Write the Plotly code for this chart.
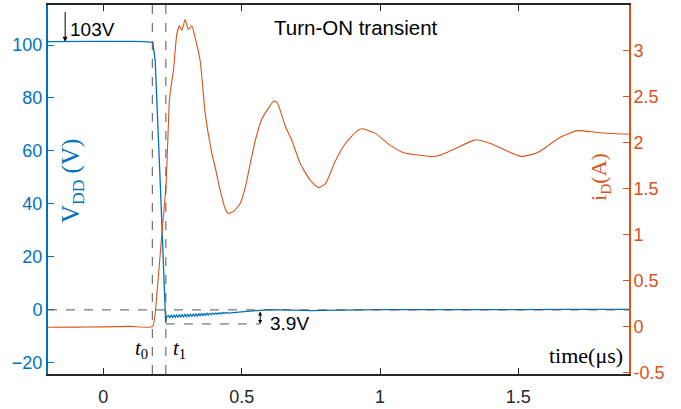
import plotly.graph_objects as go

# ---------------- data ----------------
t_vdd = [-0.20, -0.15, -0.10, -0.05, 0.00, 0.05, 0.10, 0.15, 0.1787, 0.1875, 0.1995, 0.2082, 0.2124, 0.2254, 0.2290,
         0.235, 0.240, 0.245, 0.250, 0.255, 0.260, 0.265, 0.270, 0.275, 0.280, 0.285, 0.290, 0.295, 0.300, 0.305, 0.310,
         0.315, 0.320, 0.325, 0.330, 0.335, 0.340, 0.345, 0.350, 0.355, 0.360, 0.365, 0.370, 0.375, 0.380, 0.385, 0.390,
         0.395, 0.400, 0.405, 0.410, 0.415, 0.420, 0.425, 0.430, 0.435, 0.440, 0.445, 0.450, 0.455, 0.460,
         0.48, 0.50, 0.53, 0.56, 0.60, 0.65, 0.70, 0.75, 0.80, 0.90, 1.00, 1.10, 1.30, 1.50, 1.70, 1.90]
v_dd = [101.3, 101.4, 101.5, 101.4, 101.4, 101.5, 101.4, 101.3, 101.0, 94.0, 67.0, 41.5, 30.0, -4.9, -2.5,
        -2.1, -2.9, -2.0, -2.9, -1.9, -2.8, -1.9, -2.8, -1.8, -2.7, -1.8, -2.6, -1.7, -2.6, -1.7, -2.5,
        -1.6, -2.4, -1.6, -2.3, -1.5, -2.3, -1.5, -2.2, -1.4, -2.1, -1.4, -2.0, -1.3, -1.9, -1.3, -1.8,
        -1.2, -1.7, -1.2, -1.6, -1.1, -1.5, -1.1, -1.4, -1.0, -1.3, -1.0, -1.2, -1.0, -1.1,
        -0.9, -0.7, -0.4, -0.1, 0.1, 0.0, -0.2, -0.3, -0.2, 0.0, 0.1, 0.1, 0.0, 0.1, 0.2, 0.2]

t_id = [-0.20, -0.10, 0.00, 0.10, 0.1773, 0.1947, 0.2114, 0.2269, 0.2389, 0.2476, 0.2533, 0.2657, 0.2751, 0.2838,
        0.2957, 0.3076, 0.3199, 0.3319, 0.3500, 0.3681, 0.3923, 0.4043, 0.4224, 0.4405, 0.4524, 0.4620, 0.4705,
        0.4948, 0.5129, 0.5310, 0.5490, 0.5733, 0.5914, 0.6153, 0.6276, 0.6576, 0.6819, 0.7119, 0.7481, 0.7771,
        0.8024, 0.8386, 0.8748, 0.9182, 0.9363, 0.9833, 1.0376, 1.0858, 1.2005, 1.2548, 1.3453, 1.3996, 1.5082,
        1.5686, 1.6529, 1.7134, 1.7857, 1.9001]
i_d = [-0.01, -0.008, -0.005, 0.0, 0.0, 0.40, 1.00, 1.55, 2.46, 2.67, 2.78, 3.18, 3.27, 3.22,
       3.34, 3.23, 3.27, 3.14, 2.89, 2.32, 1.88, 1.73, 1.48, 1.28, 1.23, 1.24, 1.25,
       1.34, 1.51, 1.77, 2.02, 2.26, 2.35, 2.45, 2.44, 2.18, 2.02, 1.77, 1.59, 1.51,
       1.55, 1.80, 1.99, 2.13, 2.15, 2.10, 1.97, 1.89, 1.85, 1.91, 2.03, 1.99, 1.85,
       1.89, 2.06, 2.13, 2.11, 2.09]

x_ticks = [0, 0.5, 1, 1.5]
x_ticklabels = ["0", "0.5", "1", "1.5"]
y1_ticks = [-20, 0, 20, 40, 60, 80, 100]
y2_ticks = [-0.5, 0, 0.5, 1, 1.5, 2, 2.5, 3]
y2_ticklabels = ["-0.5", "0", "0.5", "1", "1.5", "2", "2.5", "3"]

T0, T1 = 0.177, 0.226          # switching instants
V_MIN = -5.3                   # undershoot level
T_MEAS = 0.567                 # where the 3.9V undershoot is marked

BLUE = "#0072BD"
ORANGE = "#D95319"
DARK = "#262626"
SANS = "Liberation Sans, Arial, sans-serif"
SERIF = "Liberation Serif, Times New Roman, serif"

fig = go.Figure()
fig.add_trace(go.Scatter(x=t_vdd, y=v_dd, mode="lines", line=dict(color=BLUE, width=1.3),
                         yaxis="y", showlegend=False, hoverinfo="skip"))
fig.add_trace(go.Scatter(x=t_id, y=i_d, mode="lines", line=dict(color=ORANGE, width=1.1, shape="spline", smoothing=0.5),
                         yaxis="y2", showlegend=False, hoverinfo="skip"))

dash = dict(color="#555555", width=1, dash="dash")
fig.add_shape(type="line", xref="x", yref="paper", x0=T0, x1=T0, y0=0, y1=1, line=dash, layer="above")
fig.add_shape(type="line", xref="x", yref="paper", x0=T1, x1=T1, y0=0, y1=1, line=dash, layer="above")
fig.add_shape(type="line", xref="paper", yref="y", x0=0, x1=1, y0=0, y1=0, line=dash, layer="above")
fig.add_shape(type="line", xref="x", yref="y", x0=T1, x1=T_MEAS, y0=V_MIN, y1=V_MIN, line=dash, layer="above")

anns = [
    dict(x=-0.138, y=101.2, ax=-0.138, ay=113, xref="x", yref="y", axref="x", ayref="y",
         showarrow=True, arrowhead=2, arrowsize=1, arrowwidth=1, arrowcolor="black", text=""),
    dict(x=-0.128, y=105.8, xref="x", yref="y", text="103V", showarrow=False, xanchor="left", yanchor="middle",
         font=dict(family=SANS, size=19, color="black")),
    dict(x=0.915, y=0.94, xref="x", yref="paper", text="Turn-ON transient", showarrow=False,
         xanchor="center", yanchor="middle", font=dict(family=SANS, size=20.5, color="black")),
    dict(x=T_MEAS, y=V_MIN, ax=T_MEAS, ay=0, xref="x", yref="y", axref="x", ayref="y",
         showarrow=True, arrowhead=2, startarrowhead=2, arrowside="end+start", arrowsize=0.8,
         arrowwidth=1, arrowcolor="black", text=""),
    dict(x=0.596, y=V_MIN, xref="x", yref="y", text="3.9V", showarrow=False, xanchor="left", yanchor="middle",
         font=dict(family=SANS, size=19, color="black")),
    dict(x=0.139, y=0.068, xref="x", yref="paper", text="<i>t</i><sub>0</sub>", showarrow=False,
         xanchor="center", yanchor="middle", font=dict(family=SERIF, size=21, color="black")),
    dict(x=0.276, y=0.068, xref="x", yref="paper", text="<i>t</i><sub>1</sub>", showarrow=False,
         xanchor="center", yanchor="middle", font=dict(family=SERIF, size=21, color="black")),
    dict(x=0.993, y=0.049, xref="paper", yref="paper", text="time(μs)", showarrow=False, xanchor="right",
         yanchor="middle", font=dict(family=SERIF, size=22, color="black")),
    dict(x=0.0413, y=0.523, xref="paper", yref="paper", text="V<sub>DD</sub> (V)", showarrow=False,
         xanchor="center", yanchor="middle", textangle=-90, font=dict(family=SERIF, size=25, color=BLUE)),
    dict(x=0.950, y=0.534, xref="paper", yref="paper", text="i<sub>D</sub>(A)", showarrow=False,
         xanchor="center", yanchor="middle", textangle=-90, font=dict(family=SERIF, size=22, color=ORANGE)),
]

fig.update_layout(
    width=681, height=409,
    margin=dict(l=48, r=52, t=5, b=35, autoexpand=False),
    paper_bgcolor="white", plot_bgcolor="white",
    annotations=anns,
    xaxis=dict(range=[-0.2, 1.9], tickvals=x_ticks, ticktext=x_ticklabels, ticks="inside", ticklen=6,
               tickwidth=1.2, tickcolor=DARK, showline=True, linecolor=DARK, linewidth=2, mirror="ticks",
               showgrid=False, zeroline=False, automargin=False, ticklabelstandoff=5,
               tickfont=dict(family=SANS, size=18, color=DARK)),
    yaxis=dict(range=[-24.2, 115.1], tickvals=y1_ticks, ticks="inside", ticklen=6, tickwidth=1.2,
               tickcolor=BLUE, showline=True, linecolor=BLUE, linewidth=2, showgrid=False, zeroline=False,
               automargin=False, tickfont=dict(family=SANS, size=18, color=BLUE)),
    yaxis2=dict(range=[-0.518, 3.497], tickvals=y2_ticks, ticktext=y2_ticklabels, overlaying="y", side="right",
                ticks="inside", ticklen=6, tickwidth=1.2, tickcolor=ORANGE, showline=True, linecolor=ORANGE,
                linewidth=2, showgrid=False, zeroline=False, automargin=False, ticklabelstandoff=-1,
                tickfont=dict(family=SANS, size=18, color=ORANGE)),
)

fig.write_html("out.html", config={"displayModeBar": False},
               post_script="document.body.style.margin='0';document.body.style.overflow='hidden';")
